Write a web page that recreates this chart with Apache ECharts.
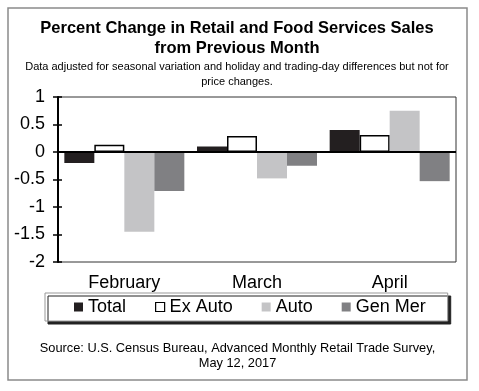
<!DOCTYPE html>
<html><head><meta charset="utf-8">
<script src="https://cdn.jsdelivr.net/npm/echarts@6/dist/echarts.min.js"></script>
<style>html,body{margin:0;padding:0;background:#fff}#c{width:479px;height:391px}</style>
</head><body><div id="c"></div>
<script>
const categories = ['February', 'March', 'April'];
const totalVals = [-0.2, 0.1, 0.4];
const exAutoVals = [0.13, 0.29, 0.31];
const autoVals = [-1.45, -0.48, 0.75];
const genMerVals = [-0.71, -0.25, -0.53];
const yTicks = { min: -2, max: 1, step: 0.5 };

const F = 'Arial, "Liberation Sans", sans-serif';
const chart = echarts.init(document.getElementById('c'), null, { renderer: 'canvas' });
const base = { type: 'bar', barWidth: 30, barGap: '0%', animation: false };
chart.setOption({
  backgroundColor: '#fff',
  textStyle: { fontFamily: F },
  graphic: [
    { type: 'rect', shape: { x: 8, y: 8, width: 459, height: 372 }, style: { fill: 'none', stroke: '#8a8a8a', lineWidth: 1.5 }, z: 0 },
    { type: 'text', x: 237, y: 28, style: { text: 'Percent Change in Retail and Food Services Sales', font: 'bold 16.5px ' + F, fill: '#000', textAlign: 'center', textVerticalAlign: 'middle' } },
    { type: 'text', x: 237, y: 48, style: { text: 'from Previous Month', font: 'bold 16.5px ' + F, fill: '#000', textAlign: 'center', textVerticalAlign: 'middle' } },
    { type: 'text', x: 237, y: 67, style: { text: 'Data adjusted for seasonal variation and holiday and trading-day differences but not for', font: '11px ' + F, fill: '#000', textAlign: 'center', textVerticalAlign: 'middle' } },
    { type: 'text', x: 237, y: 82, style: { text: 'price changes.', font: '11px ' + F, fill: '#000', textAlign: 'center', textVerticalAlign: 'middle' } },
    { type: 'text', x: 237.5, y: 348, style: { text: 'Source: U.S. Census Bureau, Advanced Monthly Retail Trade Survey,', font: '12.8px ' + F, fill: '#000', textAlign: 'center', textVerticalAlign: 'middle' } },
    { type: 'text', x: 237.5, y: 363, style: { text: 'May 12, 2017', font: '12.8px ' + F, fill: '#000', textAlign: 'center', textVerticalAlign: 'middle' } }
  ],
  grid: { left: 58, right: 23, top: 97, bottom: 129, show: true, borderColor: '#333', borderWidth: 1, backgroundColor: 'transparent' },
  legend: {
    left: 45, top: 293, orient: 'horizontal',
    padding: [5, 22, 5, 29], itemGap: 29, itemWidth: 9, itemHeight: 9,
    backgroundColor: '#fff', borderColor: '#999', borderWidth: 1,
    shadowColor: '#222', shadowOffsetX: 3, shadowOffsetY: 3, shadowBlur: 0,
    textStyle: { fontSize: 18, color: '#000', fontFamily: F },
    data: [
      { name: 'Total', icon: 'rect', itemStyle: { color: '#231f20', borderWidth: 0 } },
      { name: 'Ex Auto', icon: 'rect', itemStyle: { color: '#fff', borderColor: '#000', borderWidth: 1.2 } },
      { name: 'Auto', icon: 'rect', itemStyle: { color: '#c4c4c6', borderWidth: 0 } },
      { name: 'Gen Mer', icon: 'rect', itemStyle: { color: '#808083', borderWidth: 0 } }
    ]
  },
  xAxis: {
    type: 'category', data: categories,
    axisLine: { show: false }, axisTick: { show: false },
    axisLabel: { fontSize: 18, color: '#000', margin: 12, fontFamily: F }
  },
  yAxis: [{
    type: 'value', min: yTicks.min, max: yTicks.max, interval: yTicks.step,
    axisLine: { show: true, lineStyle: { color: '#000', width: 2 } },
    axisTick: { show: true, length: 5, lineStyle: { color: '#000', width: 1.5 } },
    axisLabel: { fontSize: 18, color: '#000', margin: 13, fontFamily: F },
    splitLine: { show: false }
  }, {
    type: 'value', position: 'left', min: yTicks.min, max: yTicks.max, interval: yTicks.step,
    axisLine: { show: false },
    axisTick: { show: true, inside: true, length: 4, lineStyle: { color: '#000', width: 1.5 } },
    axisLabel: { show: false }, splitLine: { show: false }
  }],
  series: [
    Object.assign({}, base, { name: 'Total', data: totalVals, itemStyle: { color: '#231f20' },
      markLine: { silent: true, symbol: 'none', label: { show: false }, lineStyle: { color: '#000', width: 2, type: 'solid' }, data: [{ yAxis: 0 }], z: 10 } }),
    Object.assign({}, base, { name: 'Ex Auto', data: exAutoVals, itemStyle: { color: '#fff', borderColor: '#000', borderWidth: 1.5 } }),
    Object.assign({}, base, { name: 'Auto', data: autoVals, itemStyle: { color: '#c4c4c6' } }),
    Object.assign({}, base, { name: 'Gen Mer', data: genMerVals, itemStyle: { color: '#808083' } })
  ]
});
</script></body></html>
